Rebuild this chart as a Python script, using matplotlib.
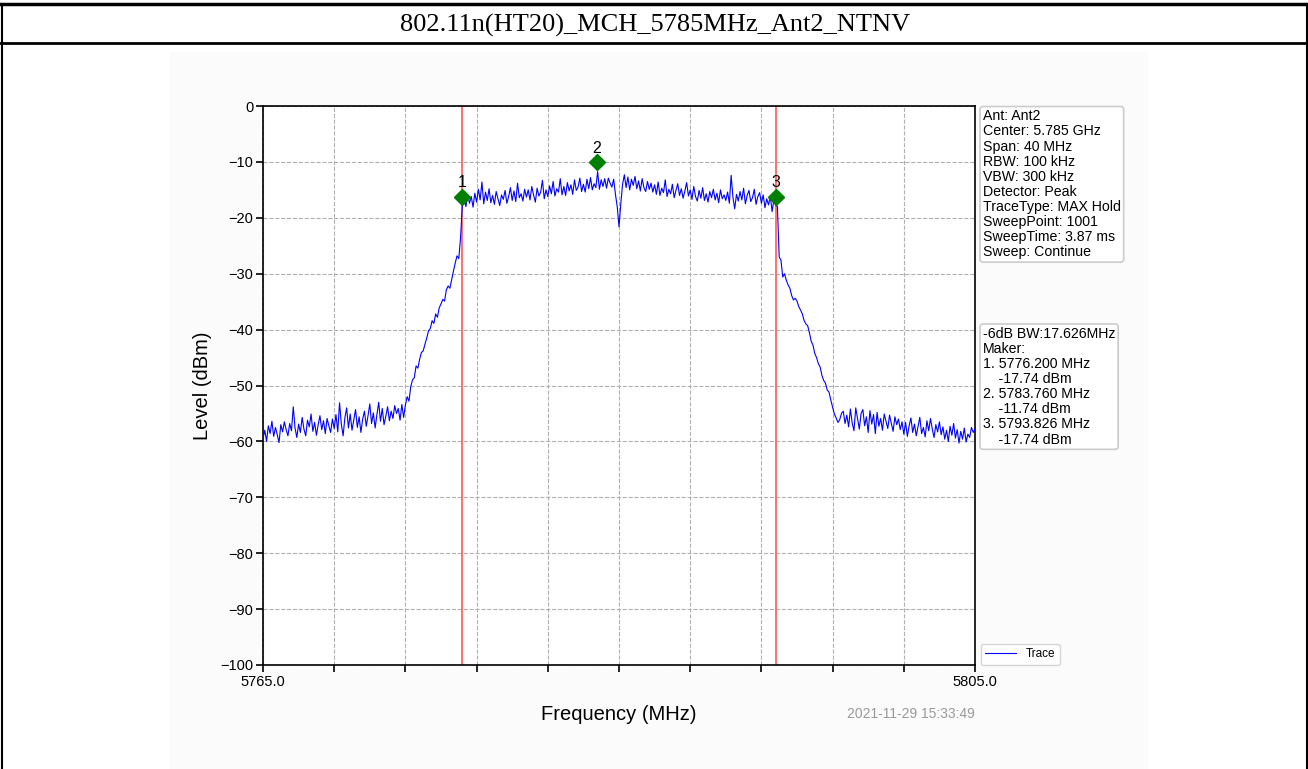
import numpy as np
import matplotlib
matplotlib.use("Agg")
import matplotlib.pyplot as plt
from matplotlib.lines import Line2D
from matplotlib.patches import Rectangle

plt.rcParams["font.family"] = ["Liberation Sans", "DejaVu Sans"]

# -------------------------------
# Data
# -------------------------------
title = "802.11n(HT20)_MCH_5785MHz_Ant2_NTNV"
f_start, f_stop, f_step = 5765.0, 5805.0, 0.1

# trace level (dBm), one value every 0.1 MHz from 5765.0 to 5805.0
level = [
    -59.5, -58.0, -60.0, -57.2, -58.6, -56.4, -59.1, -57.5, -58.8, -60.2, -57.0, -58.3, -56.5, -57.9, -59.0, -56.8, -58.1, -53.8, -57.6, -59.3,
    -56.9, -58.4, -55.7, -57.8, -59.0, -56.2, -57.4, -55.1, -58.2, -56.6, -58.9, -57.0, -55.4, -57.9, -56.3, -58.6, -55.9, -57.2, -58.4, -56.0,
    -57.7, -55.2, -58.3, -53.1, -56.9, -59.0, -55.8, -54.0, -57.6, -55.1, -58.0, -56.2, -54.3, -57.5, -55.6, -58.4, -56.0, -54.6, -57.3, -55.4,
    -53.3, -56.8, -54.9, -57.6, -55.2, -53.0, -56.4, -54.1, -57.0, -55.5, -53.8, -56.3, -54.6, -55.9, -53.6, -55.0, -54.1, -56.2, -53.4, -55.7,
    -53.5, -52.0, -52.8, -50.2, -49.0, -48.6, -46.5, -46.9, -45.3, -44.1, -43.8, -42.6, -41.5, -40.2, -39.8, -38.4, -38.9, -37.2, -37.8, -36.1,
    -35.4, -34.6, -34.9, -32.9, -32.2, -32.6, -31.0, -29.5, -28.1, -26.8, -27.3, -23.5, -17.7, -16.4, -18.0, -15.9, -17.4, -16.2, -18.1, -15.6,
    -17.2, -14.9, -16.8, -13.6, -17.5, -15.4, -16.9, -14.8, -17.3, -16.0, -17.6, -15.3, -16.6, -17.8, -15.9, -16.7, -15.1, -17.4, -16.2, -14.6,
    -16.9, -15.2, -17.1, -13.8, -16.4, -15.7, -17.0, -14.9, -16.3, -15.0, -16.8, -14.4, -15.9, -17.2, -14.7, -16.1, -15.4, -13.3, -16.6, -15.0,
    -16.2, -14.3, -15.7, -13.5, -16.1, -14.8, -15.4, -13.0, -15.9, -14.4, -16.0, -13.7, -15.2, -14.1, -15.8, -13.2, -15.1, -14.5, -12.9, -15.3,
    -14.0, -15.4, -13.1, -14.8, -12.8, -15.0, -13.9, -14.6, -11.74, -14.9, -13.2, -14.4, -13.0, -14.7, -12.9, -13.8, -14.5, -13.1, -15.8, -18.0,
    -21.6, -17.5, -14.0, -12.3, -14.6, -12.7, -15.0, -13.1, -14.2, -12.6, -14.8, -13.4, -15.2, -13.0, -14.6, -15.3, -13.5, -14.9, -13.8, -15.4,
    -14.1, -15.8, -13.6, -16.0, -14.7, -15.5, -13.2, -16.2, -14.9, -15.7, -14.0, -16.4, -15.1, -13.9, -16.0, -14.8, -16.5, -15.2, -13.7, -16.1,
    -15.0, -16.7, -14.4, -16.2, -17.0, -15.1, -16.5, -14.6, -16.9, -15.7, -17.2, -15.3, -16.4, -14.9, -16.8, -15.6, -17.3, -15.0, -16.6, -15.9,
    -16.9, -15.4, -17.4, -12.4, -16.3, -18.4, -15.8, -17.0, -15.3, -16.8, -14.7, -17.5, -16.0, -15.1, -17.1, -16.4, -14.9, -17.6, -16.2, -15.5,
    -17.4, -15.9, -18.2, -16.6, -17.7, -16.1, -18.9, -16.8, -17.7, -18.0, -27.0, -27.6, -30.6, -30.0, -31.2, -32.0, -32.6, -33.9, -34.7, -34.4,
    -34.9, -35.9, -36.5, -37.2, -38.4, -39.0, -39.3, -40.6, -42.1, -42.8, -44.3, -45.0, -46.1, -46.7, -48.2, -49.1, -49.6, -50.8, -51.2, -52.6,
    -53.9, -55.1, -55.8, -56.6, -56.1, -55.0, -54.6, -56.8, -55.3, -57.4, -54.2, -56.7, -58.1, -54.0, -55.9, -57.8, -55.0, -54.3, -57.2, -55.6,
    -58.4, -54.5, -56.9, -55.2, -58.6, -54.8, -57.3, -55.9, -58.0, -55.1, -56.4, -57.7, -55.3, -56.8, -58.2, -55.6, -57.0, -56.0, -57.9, -56.5,
    -58.7, -56.6, -59.1, -57.2, -55.8, -58.4, -56.9, -59.0, -57.4, -55.7, -58.6, -57.5, -59.2, -56.3, -58.1, -55.9, -57.8, -59.3, -57.0, -58.3,
    -56.5, -58.8, -57.4, -59.6, -58.0, -60.0, -57.3, -58.9, -56.8, -59.4, -57.9, -60.3, -58.2, -59.6, -57.6, -60.1, -58.7, -59.3, -57.5, -58.4,
    -57.8,
]

# markers: frequency, level shown in text, level where the diamond is drawn
marker_freq = [5776.200, 5783.760, 5793.826]
marker_level = [-17.74, -11.74, -17.74]
marker_plot = [-16.2, -10.0, -16.2]
bw_6db = 17.626

info_lines = ["Ant: Ant2", "Center: 5.785 GHz", "Span: 40 MHz", "RBW: 100 kHz",
              "VBW: 300 kHz", "Detector: Peak", "TraceType: MAX Hold",
              "SweepPoint: 1001", "SweepTime: 3.87 ms", "Sweep: Continue"]
timestamp = "2021-11-29 15:33:49"

freq = f_start + f_step * np.arange(len(level))

# -------------------------------
# Figure / frame
# -------------------------------
W, H = 1308, 769
fig = plt.figure(figsize=(W / 100, H / 100), dpi=100, facecolor="white")

def px(x, y):
    return x / W, 1 - y / H

# inner picture background
fig.patches.append(Rectangle(px(170, 769), (1148 - 170) / W, (769 - 52) / H,
                             transform=fig.transFigure, facecolor="#fbfbfb",
                             edgecolor="none", zorder=-5))
# table lines
for (x0, y0), (x1, y1), lw in [((0, 4), (1308, 4), 2.5), ((0, 43), (1308, 43), 2.0),
                               ((1.5, 4), (1.5, 769), 1.5), ((1306.5, 4), (1306.5, 769), 1.5)]:
    a, b = px(x0, y0)
    c, d = px(x1, y1)
    fig.add_artist(Line2D([a, c], [b, d], color="black", lw=lw, transform=fig.transFigure))

fig.text(*px(655, 25), title, ha="center", va="center", fontsize=19,
         family=["Liberation Serif", "DejaVu Serif"])

# -------------------------------
# Axes
# -------------------------------
ax = fig.add_axes([263 / W, 1 - 665 / H, (975 - 263) / W, (665 - 106) / H], zorder=2)
ax.set_facecolor("white")
ax.plot(freq, level, color="blue", lw=0.8, label="Trace", zorder=3)

for f in (marker_freq[0], marker_freq[2]):
    ax.axvline(f, color="#ff7070", lw=1.4, zorder=2)

for i, (f, lv) in enumerate(zip(marker_freq, marker_plot)):
    ax.plot(f, lv, "D", color="green", markersize=8, zorder=4)
    ax.text(f, lv + 1.1, str(i + 1), ha="center", va="bottom", fontsize=11.5, zorder=5)

ax.set_xlim(f_start, f_stop)
ax.set_ylim(-100, 0)
xt = np.arange(f_start, f_stop + 0.1, 4)
ax.set_xticks(xt)
ax.set_xticklabels([f"{v:.1f}" if v in (f_start, f_stop) else "" for v in xt], fontsize=10.5)
ax.set_yticks(np.arange(-100, 1, 10))
ax.tick_params(axis="y", labelsize=10.5)
ax.tick_params(length=5, width=1.2, pad=2)
ax.grid(True, ls="--", color="#b0b0b0", lw=0.8)
for s in ax.spines.values():
    s.set_linewidth(1.2)

ax.set_xlabel("Frequency (MHz)", fontsize=14.5, labelpad=12)
ax.set_ylabel("Level (dBm)", fontsize=14.5, labelpad=6)

box = dict(boxstyle="round,pad=0.2", facecolor="white", edgecolor="#cccccc", lw=1.2)
ax.text(1.011, 0.994, "\n".join(info_lines), transform=ax.transAxes, ha="left", va="top",
        fontsize=10.2, linespacing=1.10, bbox=box)

marker_text = [f"-6dB BW:{bw_6db:.3f}MHz", "Maker:"]
for i, (f, lv) in enumerate(zip(marker_freq, marker_level)):
    marker_text.append(f"{i + 1}. {f:.3f} MHz")
    marker_text.append(f"    {lv:.2f} dBm")
ax.text(1.011, 0.605, "\n".join(marker_text), transform=ax.transAxes, ha="left", va="top",
        fontsize=10.2, linespacing=1.10, bbox=box)

ax.legend(loc="lower left", bbox_to_anchor=(1.008, 0.0), fontsize=8.5, borderaxespad=0.0,
          handlelength=2.6, fancybox=True)

fig.text(*px(975, 714), timestamp, ha="right", va="center", fontsize=10, color="#999999")

fig.savefig("out.png", dpi=100, facecolor="white")
